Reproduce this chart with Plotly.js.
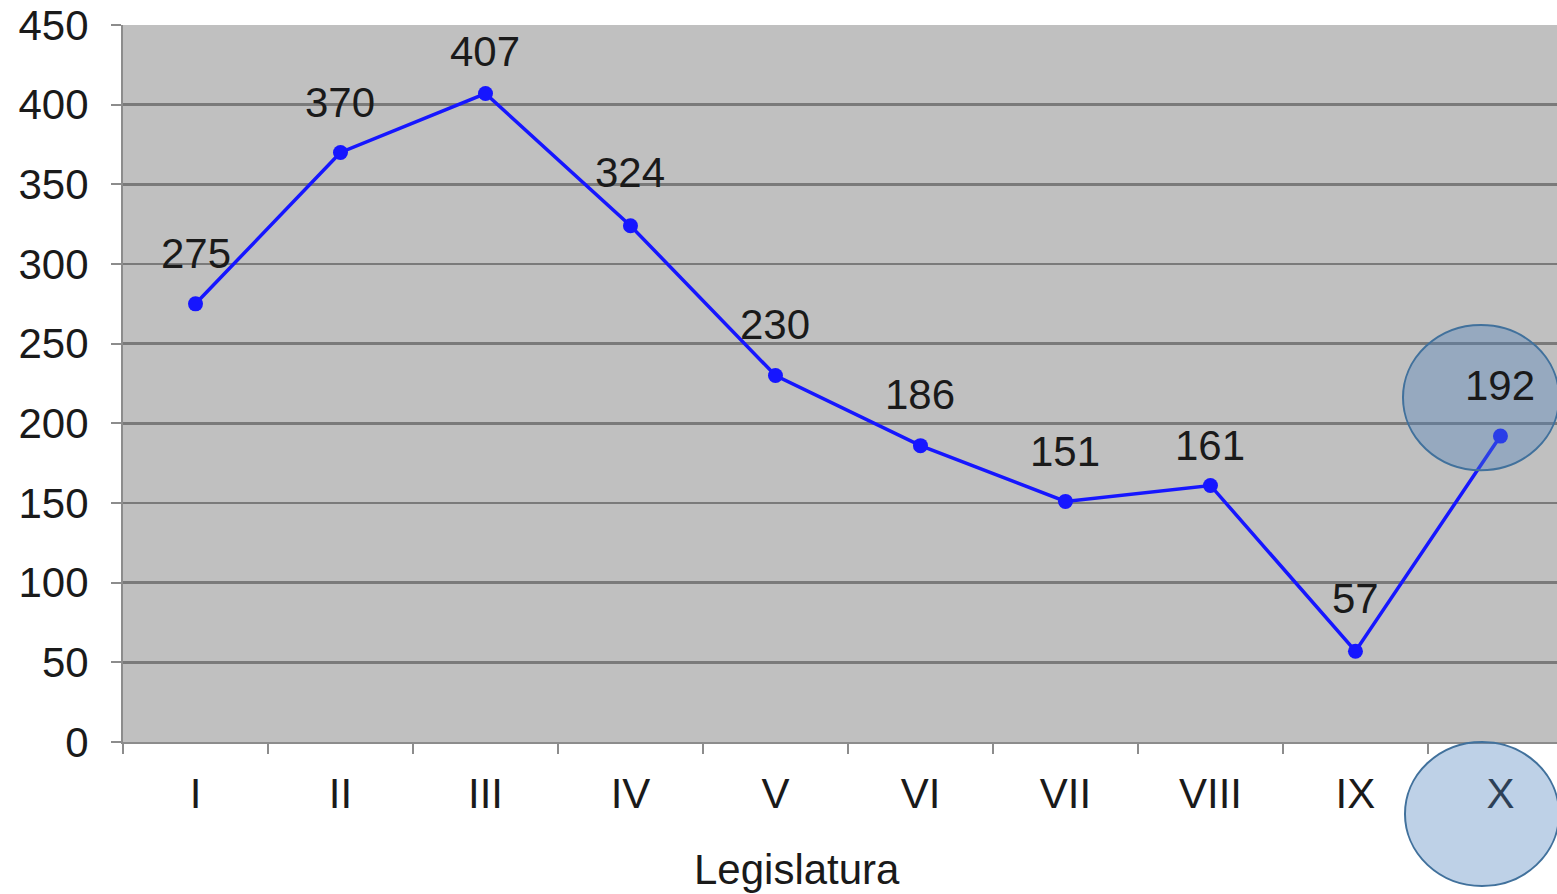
<!DOCTYPE html>
<html>
<head>
<meta charset="utf-8">
<script src="https://cdn.plot.ly/plotly-3.0.1.min.js"></script>
<style>html,body{margin:0;padding:0;background:#fff;}#chart{width:1557px;height:894px;}</style>
</head>
<body>
<div id="chart"></div>
<script>
const categories = ["I","II","III","IV","V","VI","VII","VIII","IX","X"];
const values = [275, 370, 407, 324, 230, 186, 151, 161, 57, 192];
const yTicks = [0, 50, 100, 150, 200, 250, 300, 350, 400, 450];
const xTitle = "Legislatura";

// label offsets above each point (pixels), styling only
const labelShift = [50, 50, 42, 53, 51, 51, 50, 40, 53, 51];

const font = "Liberation Sans, Arial, sans-serif";
const fs = 42;
const trace = {
  x: categories,
  y: values,
  type: "scatter",
  mode: "lines+markers",
  line: {color: "#1616ff", width: 3.5},
  marker: {color: "#1616ff", size: 15},
  cliponaxis: false,
  hoverinfo: "x+y"
};

const labelAnns = categories.map((c, i) => ({
  x: c, y: values[i], xref: "x", yref: "y",
  text: String(values[i]), showarrow: false,
  xanchor: "center", yanchor: "middle", yshift: labelShift[i],
  font: {family: font, size: fs, color: "#1a1a1a"}
}));

const layout = {
  width: 1557, height: 894,
  margin: {l: 123, r: 0, t: 25, b: 152},
  paper_bgcolor: "#ffffff",
  plot_bgcolor: "#c0c0c0",
  showlegend: false,
  font: {family: font, color: "#1a1a1a"},
  xaxis: {
    type: "category",
    range: [-0.5, 9.39],
    tickson: "boundaries",
    ticks: "outside", ticklen: 10, tickwidth: 2, tickcolor: "#8c8c8c",
    showgrid: false,
    showline: true, linecolor: "#8c8c8c", linewidth: 2,
    tickfont: {family: font, size: fs, color: "#1a1a1a"},
    ticklabelstandoff: 14,
    fixedrange: true
  },
  yaxis: {
    range: [0, 450],
    tickvals: yTicks,
    ticks: "outside", ticklen: 10, tickwidth: 2, tickcolor: "#8c8c8c",
    showgrid: true, gridcolor: "#7a7a7a", gridwidth: 2.5,
    zeroline: false,
    showline: true, linecolor: "#8c8c8c", linewidth: 2,
    tickfont: {family: font, size: fs, color: "#1a1a1a"},
    ticklabelstandoff: 14,
    fixedrange: true
  },
  annotations: labelAnns.concat([{
    text: xTitle, xref: "paper", yref: "paper",
    x: 0.47, y: -0.183, xanchor: "center", yanchor: "middle", yshift: 4,
    showarrow: false, font: {family: font, size: fs, color: "#1a1a1a"}
  }]),
  shapes: [
    {type: "circle", xref: "paper", yref: "paper", x0: 0.8926, x1: 1.0014, y0: 0.379, y1: 0.5816,
     fillcolor: "rgba(79,129,189,0.37)", line: {color: "#41719c", width: 2}, layer: "above"},
    {type: "circle", xref: "paper", yref: "paper", x0: 0.894, x1: 1.0014, y0: -0.2008, y1: 0,
     fillcolor: "rgba(79,129,189,0.37)", line: {color: "#41719c", width: 2}, layer: "above"}
  ]
};

Plotly.newPlot("chart", [trace], layout, {displayModeBar: false, staticPlot: true});
</script>
</body>
</html>
